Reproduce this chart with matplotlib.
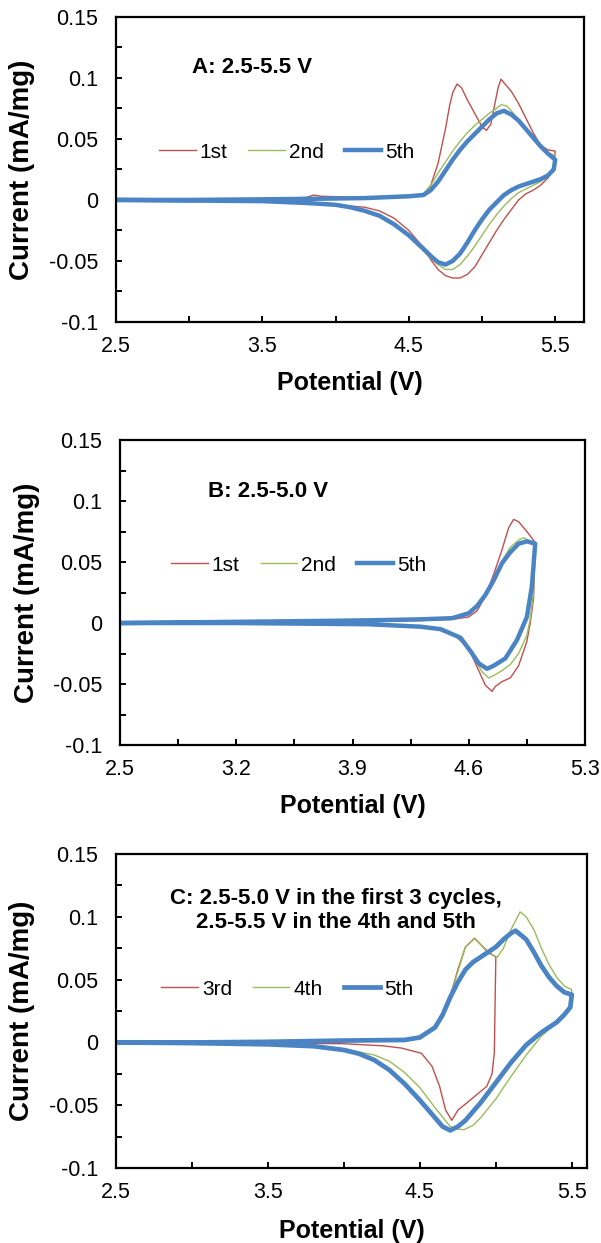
import matplotlib
matplotlib.use("Agg")
import matplotlib.pyplot as plt

plt.rcParams['font.family'] = ['Liberation Sans', 'DejaVu Sans']

RED = '#c0504d'
GREEN = '#9bbb59'
BLUE = '#4b84c4'

# ---- panel A: 2.5-5.5 V ----
a_1st_v = [2.5, 3.0, 3.5, 3.8, 3.85, 3.9, 4.2, 4.5, 4.6, 4.65, 4.7, 4.75, 4.78, 4.8, 4.83, 4.86, 4.9, 4.95,
           5.0, 5.03, 5.06, 5.09, 5.11, 5.13, 5.15, 5.2, 5.25, 5.3, 5.35, 5.4, 5.45, 5.5,
           5.49, 5.45, 5.4, 5.35, 5.3, 5.25, 5.2, 5.15, 5.1, 5.05, 5.0, 4.95, 4.9, 4.85, 4.8, 4.75, 4.7,
           4.65, 4.6, 4.5, 4.4, 4.3, 4.2, 4.0, 3.8, 3.5, 3.0, 2.5]
a_1st_i = [0.0, 0.0005, 0.001, 0.002, 0.004, 0.003, 0.002, 0.002, 0.004, 0.012, 0.03, 0.058, 0.078, 0.088,
           0.095, 0.092, 0.082, 0.071, 0.06, 0.057, 0.062, 0.08, 0.092, 0.099, 0.096, 0.089, 0.079, 0.067,
           0.055, 0.045, 0.041, 0.040,
           0.026, 0.018, 0.012, 0.008, 0.005, 0.0, -0.008, -0.016, -0.025, -0.035, -0.045, -0.055, -0.061,
           -0.064, -0.064, -0.062, -0.057, -0.049, -0.039, -0.025, -0.015, -0.009, -0.006, -0.004, -0.002,
           -0.001, -0.0005, 0.0]

a_2nd_v = [2.5, 3.0, 3.5, 4.0, 4.5, 4.6, 4.65, 4.7, 4.75, 4.8, 4.85, 4.9, 4.95, 5.0, 5.05, 5.1, 5.13, 5.17,
           5.2, 5.25, 5.3, 5.35, 5.4, 5.45, 5.5,
           5.49, 5.45, 5.4, 5.35, 5.3, 5.25, 5.2, 5.15, 5.1, 5.05, 5.0, 4.95, 4.9, 4.85, 4.8, 4.75, 4.7,
           4.65, 4.6, 4.5, 4.4, 4.3, 4.2, 4.0, 3.5, 3.0, 2.5]
a_2nd_i = [0.0, 0.0005, 0.001, 0.002, 0.003, 0.005, 0.012, 0.022, 0.031, 0.040, 0.048, 0.055, 0.061, 0.066,
           0.071, 0.075, 0.078, 0.077, 0.073, 0.066, 0.058, 0.051, 0.044, 0.039, 0.036,
           0.026, 0.020, 0.015, 0.012, 0.009, 0.006, 0.001, -0.005, -0.012, -0.020, -0.029, -0.038, -0.046,
           -0.053, -0.057, -0.057, -0.053, -0.048, -0.042, -0.030, -0.020, -0.013, -0.008, -0.004, -0.001,
           -0.0005, 0.0]

a_5th_v = [2.5, 3.0, 3.5, 3.9, 4.2, 4.5, 4.6, 4.65, 4.7, 4.75, 4.8, 4.85, 4.9, 4.95, 5.0, 5.05, 5.1, 5.15,
           5.2, 5.25, 5.3, 5.35, 5.4, 5.45, 5.5,
           5.49, 5.45, 5.4, 5.35, 5.3, 5.25, 5.2, 5.15, 5.1, 5.05, 5.0, 4.95, 4.9, 4.85, 4.8, 4.75, 4.7,
           4.65, 4.6, 4.5, 4.4, 4.3, 4.2, 4.1, 4.0, 3.8, 3.5, 3.0, 2.5]
a_5th_i = [0.0, 0.0, 0.0005, 0.001, 0.0015, 0.003, 0.004, 0.008, 0.015, 0.024, 0.033, 0.041, 0.048, 0.054,
           0.060, 0.066, 0.071, 0.073, 0.070, 0.065, 0.058, 0.051, 0.044, 0.038, 0.033,
           0.025, 0.020, 0.017, 0.015, 0.013, 0.011, 0.008, 0.004, -0.002, -0.008, -0.016, -0.025, -0.035,
           -0.044, -0.050, -0.053, -0.051, -0.046, -0.040, -0.029, -0.020, -0.013, -0.009, -0.006, -0.004,
           -0.0025, -0.001, -0.0005, 0.0]

# ---- panel B: 2.5-5.0 V ----
b_1st_v = [2.5, 3.2, 3.9, 4.3, 4.5, 4.6, 4.65, 4.7, 4.75, 4.8, 4.84, 4.87, 4.9, 4.95, 5.0,
           4.99, 4.97, 4.95, 4.9, 4.85, 4.8, 4.76, 4.74, 4.7, 4.65, 4.6, 4.5, 4.4, 4.2, 3.9, 3.2, 2.5]
b_1st_i = [0.0, 0.001, 0.002, 0.002, 0.003, 0.005, 0.01, 0.022, 0.04, 0.06, 0.078, 0.085, 0.083, 0.075, 0.066,
           0.02, 0.0, -0.015, -0.035, -0.045, -0.048, -0.052, -0.056, -0.051, -0.036, -0.021, -0.008,
           -0.004, -0.002, -0.001, 0.0, 0.0]

b_2nd_v = [2.5, 3.2, 3.9, 4.3, 4.5, 4.6, 4.65, 4.7, 4.75, 4.8, 4.85, 4.9, 4.93, 4.97, 5.0,
           4.99, 4.97, 4.95, 4.9, 4.85, 4.8, 4.75, 4.72, 4.68, 4.63, 4.55, 4.45, 4.3, 4.0, 3.2, 2.5]
b_2nd_i = [0.0, 0.001, 0.003, 0.003, 0.004, 0.008, 0.014, 0.024, 0.037, 0.051, 0.062, 0.068, 0.070, 0.067, 0.066,
           0.025, 0.003, -0.01, -0.025, -0.034, -0.039, -0.043, -0.045, -0.040, -0.028, -0.013, -0.006,
           -0.003, -0.001, 0.0, 0.0]

b_5th_v = [2.5, 3.2, 3.9, 4.3, 4.5, 4.6, 4.65, 4.7, 4.75, 4.8, 4.85, 4.9, 4.95, 5.0,
           4.98, 4.95, 4.89, 4.82, 4.75, 4.71, 4.66, 4.61, 4.55, 4.43, 4.31, 4.0, 3.2, 2.5]
b_5th_i = [0.0, 0.001, 0.002, 0.003, 0.004, 0.008, 0.014, 0.023, 0.035, 0.049, 0.058, 0.065, 0.067, 0.065,
           0.03, 0.005, -0.014, -0.029, -0.035, -0.0375, -0.033, -0.023, -0.012, -0.005, -0.003, -0.001,
           0.0, 0.0]

# ---- panel C: 2.5-5.0 V for cycles 1-3, 2.5-5.5 V for 4-5 ----
c_3rd_v = [2.5, 3.5, 4.0, 4.4, 4.5, 4.6, 4.65, 4.7, 4.75, 4.8, 4.86, 4.9, 4.95, 5.0,
           4.99, 4.975, 4.94, 4.86, 4.8, 4.75, 4.71, 4.67, 4.63, 4.58, 4.51, 4.38, 4.26, 4.0, 3.5, 2.5]
c_3rd_i = [0.0, 0.0005, 0.001, 0.002, 0.0035, 0.0115, 0.021, 0.037, 0.058, 0.076, 0.083, 0.078, 0.072, 0.068,
           -0.0085, -0.025, -0.035, -0.043, -0.049, -0.054, -0.062, -0.054, -0.035, -0.019, -0.0086,
           -0.0045, -0.0027, -0.001, -0.0005, 0.0]

c_4th_v = [2.5, 3.5, 4.0, 4.4, 4.5, 4.6, 4.7, 4.8, 4.86, 4.9, 4.95, 5.01, 5.05, 5.1, 5.16, 5.2, 5.25, 5.3,
           5.35, 5.4, 5.45, 5.5,
           5.49, 5.45, 5.4, 5.3, 5.2, 5.1, 5.0, 4.9, 4.85, 4.79, 4.75, 4.7, 4.6, 4.5, 4.4, 4.3, 4.2, 4.0,
           3.5, 2.5]
c_4th_i = [0.0, 0.0005, 0.001, 0.002, 0.004, 0.012, 0.037, 0.076, 0.083, 0.078, 0.071, 0.068, 0.075, 0.09,
           0.104, 0.100, 0.090, 0.075, 0.062, 0.052, 0.045, 0.042,
           0.03, 0.022, 0.016, 0.005, -0.01, -0.027, -0.045, -0.060, -0.066, -0.0695, -0.069, -0.067,
           -0.052, -0.036, -0.024, -0.015, -0.010, -0.005, -0.0015, 0.0]

c_5th_v = [2.5, 3.0, 3.5, 4.0, 4.4, 4.5, 4.6, 4.65, 4.7, 4.75, 4.8, 4.85, 4.9, 4.95, 5.0, 5.05, 5.1, 5.13,
           5.2, 5.25, 5.3, 5.35, 5.4, 5.45, 5.5,
           5.49, 5.45, 5.4, 5.3, 5.2, 5.1, 5.0, 4.9, 4.8, 4.75, 4.7, 4.65, 4.6, 4.5, 4.4, 4.3, 4.2, 4.1,
           4.0, 3.8, 3.5, 3.0, 2.5]
c_5th_i = [0.0, 0.0, 0.0005, 0.0015, 0.002, 0.004, 0.012, 0.022, 0.036, 0.048, 0.058, 0.064, 0.068, 0.072,
           0.076, 0.082, 0.087, 0.089, 0.082, 0.072, 0.061, 0.052, 0.045, 0.040, 0.038,
           0.028, 0.022, 0.016, 0.008, -0.002, -0.016, -0.032, -0.048, -0.062, -0.067, -0.070, -0.067,
           -0.060, -0.046, -0.033, -0.022, -0.014, -0.009, -0.006, -0.003, -0.0015, -0.0005, 0.0]

a_xticks = [2.5, 3.5, 4.5, 5.5]
a_xminor = [3.0, 4.0, 5.0]
b_xticks = [2.5, 3.2, 3.9, 4.6, 5.3]
b_xminor = [2.85, 3.55, 4.25, 4.95]
y_ticks = [-0.1, -0.05, 0, 0.05, 0.1, 0.15]
y_ticklabels = ['-0.1', '-0.05', '0', '0.05', '0.1', '0.15']
y_minor = [-0.075, -0.025, 0.025, 0.075, 0.125]

panels = [
    dict(rect=[0.193, 0.741, 0.7795, 0.2454], xlim=(2.5, 5.7), xticks=a_xticks, xminor=a_xminor,
         title='A: 2.5-5.5 V', title_xy=(0.162, 0.833), title_ha='left',
         legend_xy=(0.092, 0.557),
         series=[(a_1st_v, a_1st_i, '1st', RED, 1.0), (a_2nd_v, a_2nd_i, '2nd', GREEN, 1.0),
                 (a_5th_v, a_5th_i, '5th', BLUE, 3.2)]),
    dict(rect=[0.1997, 0.4006, 0.7737, 0.2454], xlim=(2.5, 5.3), xticks=b_xticks, xminor=b_xminor,
         title='B: 2.5-5.0 V', title_xy=(0.19, 0.83), title_ha='left',
         legend_xy=(0.110, 0.59),
         series=[(b_1st_v, b_1st_i, '1st', RED, 1.0), (b_2nd_v, b_2nd_i, '2nd', GREEN, 1.0),
                 (b_5th_v, b_5th_i, '5th', BLUE, 3.2)]),
    dict(rect=[0.193, 0.0603, 0.7837, 0.2526], xlim=(2.5, 5.6), xticks=a_xticks, xminor=a_xminor,
         title='C: 2.5-5.0 V in the first 3 cycles,\n2.5-5.5 V in the 4th and 5th', title_xy=(0.467, 0.82),
         title_ha='center',
         legend_xy=(0.096, 0.57),
         series=[(c_3rd_v, c_3rd_i, '3rd', RED, 1.0), (c_4th_v, c_4th_i, '4th', GREEN, 1.0),
                 (c_5th_v, c_5th_i, '5th', BLUE, 3.4)]),
]

fig = plt.figure(figsize=(6.01, 12.43), dpi=100)

for p in panels:
    ax = fig.add_axes(p['rect'])
    for v, i, lab, col, lw in p['series']:
        ax.plot(v, i, color=col, lw=lw, label=lab)

    ax.set_xlim(*p['xlim'])
    ax.set_ylim(-0.1, 0.15)
    ax.set_xticks(p['xticks'])
    ax.set_xticklabels([f'{t:.1f}' for t in p['xticks']])
    ax.set_xticks(p['xminor'], minor=True)
    ax.set_yticks(y_ticks)
    ax.set_yticklabels(y_ticklabels)
    ax.set_yticks(y_minor, minor=True)

    for s in ax.spines.values():
        s.set_linewidth(1.6)
    ax.tick_params(which='both', direction='in', length=4, width=1.4, labelsize=15.5)
    ax.tick_params(axis='y', which='major', pad=13)
    ax.tick_params(axis='x', which='major', pad=10)

    ax.set_xlabel('Potential (V)', fontsize=18, fontweight='bold', va='center')
    ax.set_ylabel('Current (mA/mg)', fontsize=20, fontweight='bold', va='center')
    ax.xaxis.set_label_coords(0.5, -0.2)
    ax.yaxis.set_label_coords(-0.2, 0.5)

    ax.text(*p['title_xy'], p['title'], transform=ax.transAxes, fontsize=16, fontweight='bold',
            ha=p['title_ha'], va='center', linespacing=1.15)

    ax.legend(ncol=3, loc='center left', bbox_to_anchor=p['legend_xy'], frameon=False,
              fontsize=15, handlelength=1.75, handletextpad=0.2, columnspacing=1.0,
              borderpad=0, borderaxespad=0)

fig.savefig('out.png', dpi=100)
